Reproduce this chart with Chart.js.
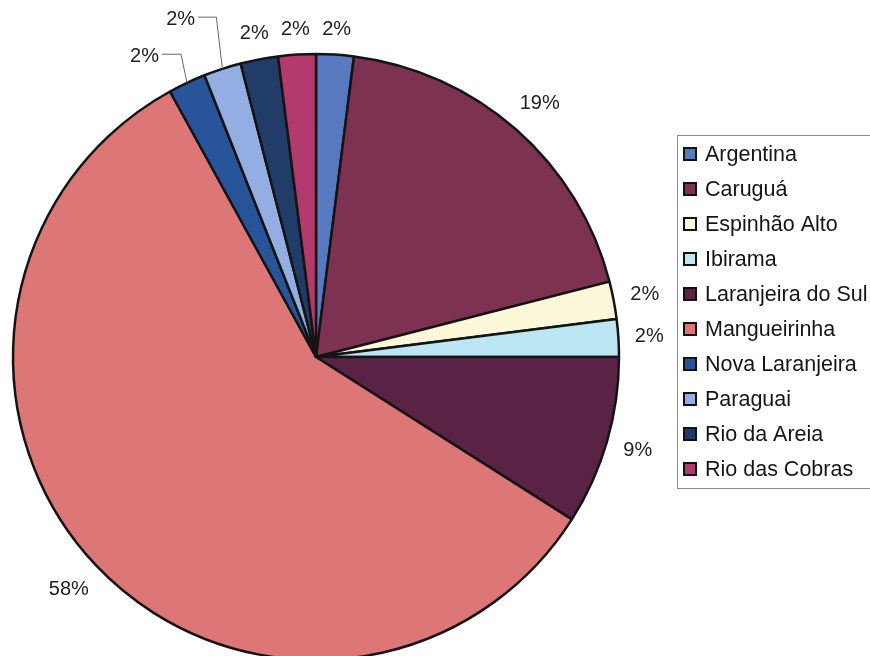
<!DOCTYPE html>
<html>
<head>
<meta charset="utf-8">
<script src="https://cdn.jsdelivr.net/npm/chart.js@4.4.1/dist/chart.umd.min.js"></script>
<style>
  html, body { margin: 0; padding: 0; background: #fff; overflow: hidden; }
  canvas { display: block; }
</style>
</head>
<body>
<canvas id="pie-chart" width="870" height="720"></canvas>
<script>
// Data
const categories = [
  "Argentina",
  "Caruguá",
  "Espinhão Alto",
  "Ibirama",
  "Laranjeira do Sul",
  "Mangueirinha",
  "Nova Laranjeira",
  "Paraguai",
  "Rio da Areia",
  "Rio das Cobras",
];
const percentValues = [2, 19, 2, 2, 9, 58, 2, 2, 2, 2];
const sliceColors = [
  "#5878c0", "#7e3252", "#fbf7d8", "#bde6f5", "#5a2345",
  "#dd7676", "#28559a", "#93aee2", "#213c68", "#b33a6c",
];

const FONT = '"Liberation Sans", Arial, sans-serif';

// percent labels outside the pie, two of them pulled away with leader lines
const pieLabels = {
  id: "pieLabels",
  afterDatasetsDraw(chart, args, opts) {
    const ctx = chart.ctx;
    const meta = chart.getDatasetMeta(0);
    ctx.save();
    ctx.font = "20px " + FONT;
    ctx.fillStyle = "#1e1e1e";
    ctx.textAlign = "center";
    ctx.textBaseline = "middle";
    meta.data.forEach(function (arc, i) {
      const p = arc.getProps(["x", "y", "startAngle", "endAngle", "outerRadius"], true);
      const mid = (p.startAngle + p.endAngle) / 2;
      const dx = Math.cos(mid), dy = Math.sin(mid);
      const text = percentValues[i] + "%";
      const w = ctx.measureText(text).width;
      const extent = (w / 2) * Math.abs(dx) + 8 * Math.abs(dy);
      const dist = p.outerRadius + opts.gap + extent;
      let lx = p.x + dx * dist;
      let ly = p.y + dy * dist;
      const shift = opts.shifts[i];
      if (shift) {
        lx += shift[0];
        ly += shift[1];
        const ax = p.x + dx * p.outerRadius;
        const ay = p.y + dy * p.outerRadius;
        ctx.strokeStyle = "#666";
        ctx.lineWidth = 1;
        ctx.beginPath();
        ctx.moveTo(lx + w / 2 + 3, ly - 2);
        ctx.lineTo(ax - 6, ly - 2);
        ctx.lineTo(ax, ay);
        ctx.stroke();
      }
      ctx.fillText(text, lx, ly);
    });
    ctx.restore();
  },
};

// legend box on the right
const sideLegend = {
  id: "sideLegend",
  afterDraw(chart, args, opts) {
    const ctx = chart.ctx;
    ctx.save();
    ctx.strokeStyle = "#8a8a8a";
    ctx.lineWidth = 1;
    ctx.strokeRect(opts.left + 0.5, opts.top + 0.5, 300, opts.bottom - opts.top);
    ctx.font = "21.5px " + FONT;
    ctx.textAlign = "left";
    ctx.textBaseline = "middle";
    categories.forEach(function (name, i) {
      const cy = opts.firstRow + i * opts.rowStep;
      ctx.fillStyle = sliceColors[i];
      ctx.fillRect(opts.left + 7, cy - 6, 12, 12);
      ctx.strokeStyle = "#111";
      ctx.lineWidth = 2;
      ctx.strokeRect(opts.left + 7, cy - 6, 12, 12);
      ctx.fillStyle = "#151515";
      ctx.fillText(name, opts.left + 28, cy + 1);
    });
    ctx.restore();
  },
};

new Chart(document.getElementById("pie-chart"), {
  type: "pie",
  data: {
    labels: categories,
    datasets: [
      {
        data: percentValues,
        backgroundColor: sliceColors,
        borderColor: "#141414",
        borderWidth: 2.5,
        radius: 303,
      },
    ],
  },
  options: {
    responsive: false,
    animation: false,
    layout: { padding: { left: 13, right: 251, top: 54, bottom: 60 } },
    plugins: {
      legend: { display: false },
      tooltip: { enabled: false },
      pieLabels: {
        gap: 16,
        shifts: { 6: [-30, 0], 7: [-33, -23] },
      },
      sideLegend: { left: 677, top: 135, bottom: 488, firstRow: 154, rowStep: 35 },
    },
  },
  plugins: [pieLabels, sideLegend],
});
</script>
</body>
</html>
